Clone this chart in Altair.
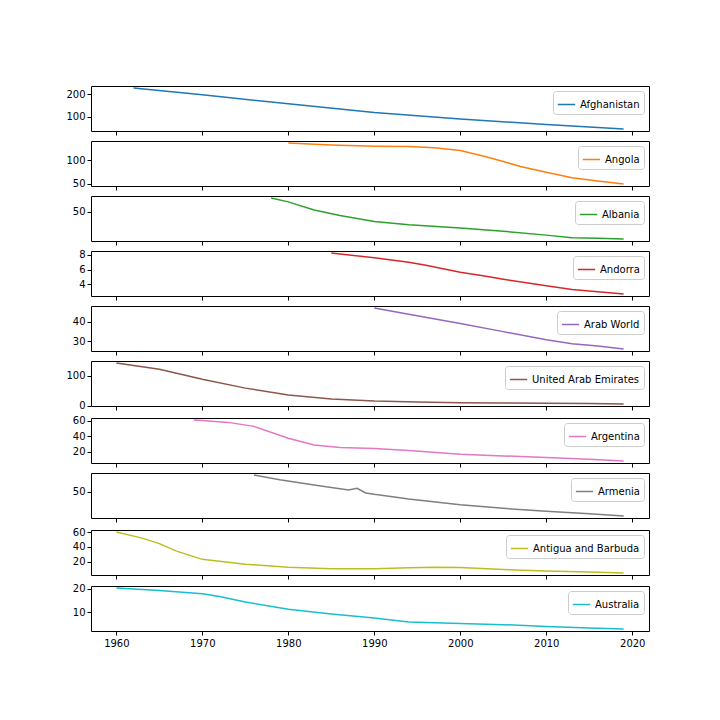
import altair as alt
import pandas as pd

countries = ["Afghanistan", "Angola", "Albania", "Andorra", "Arab World",
             "United Arab Emirates", "Argentina", "Armenia", "Antigua and Barbuda", "Australia"]
colors = ["#1f77b4", "#ff7f0e", "#2ca02c", "#d62728", "#9467bd",
          "#8c564b", "#e377c2", "#7f7f7f", "#bcbd22", "#17becf"]

# Infant mortality rate (per 1,000 live births)
afg_years = [1962, 1970, 1980, 1990, 2000, 2010, 2019]
afg_vals = [228, 198, 158, 120, 91, 66.6, 47]

ago_years = [1980, 1985, 1990, 1994, 1997, 2000, 2003, 2005, 2007, 2010, 2013, 2016, 2019]
ago_vals = [136, 132.1, 129.3, 128.6, 125.9, 120.4, 107.2, 97.0, 86.6, 74.2, 62.5, 55.6, 49.6]

alb_years = [1978, 1980, 1983, 1986, 1990, 1994, 2000, 2005, 2010, 2013, 2016, 2019]
alb_vals = [70.5, 64.7, 52.3, 44.0, 35.0, 30.1, 25.1, 20.2, 14.3, 10.3, 9.4, 8.5]

and_years = [1985, 1990, 1994, 1996, 2000, 2003, 2005, 2010, 2013, 2016, 2019]
and_vals = [8.25, 7.6, 7.0, 6.6, 5.65, 5.1, 4.7, 3.8, 3.3, 3.0, 2.7]

arb_years = [1990, 1994, 2000, 2005, 2010, 2013, 2016, 2019]
arb_vals = [47, 43.8, 39.1, 34.9, 30.7, 28.7, 27.5, 26]

are_years = [1960, 1965, 1970, 1975, 1980, 1985, 1990, 1995, 2000, 2005, 2010, 2015, 2019]
are_vals = [142, 121.4, 88.5, 58.9, 35.9, 22.8, 16.1, 12.9, 10.7, 9.6, 8.5, 7.6, 6.5]

arg_years = [1969, 1970, 1973, 1976, 1980, 1983, 1986, 1990, 1994, 2000, 2005, 2010, 2015, 2019]
arg_vals = [61, 60.5, 58.0, 52.9, 37.7, 29.1, 25.7, 24.4, 21.8, 17.1, 15.0, 12.8, 10.6, 8.5]

arm_years = [1976, 1979, 1983, 1987, 1988, 1989, 1990, 1994, 2000, 2005, 2010, 2015, 2019]
arm_vals = [77.3, 69.8, 61.2, 53.1, 55.8, 48.3, 46, 38.4, 29.3, 23.3, 18.5, 14.7, 11]

atg_years = [1960, 1963, 1965, 1967, 1970, 1975, 1980, 1985, 1990, 1994, 1997, 2000, 2005, 2010, 2015, 2019]
atg_vals = [60, 51.8, 44.4, 34.3, 23.3, 16.7, 12.8, 10.6, 10.6, 11.9, 12.8, 12.3, 9.7, 7.5, 6.2, 5.0]

aus_years = [1960, 1965, 1970, 1972, 1975, 1980, 1985, 1990, 1994, 2000, 2005, 2010, 2015, 2019]
aus_vals = [20.2, 19.2, 17.8, 16.7, 14.4, 11.3, 9.4, 7.7, 6.0, 5.4, 4.9, 4.1, 3.5, 3.1]

series = [(afg_years, afg_vals), (ago_years, ago_vals), (alb_years, alb_vals),
          (and_years, and_vals), (arb_years, arb_vals), (are_years, are_vals),
          (arg_years, arg_vals), (arm_years, arm_vals), (atg_years, atg_vals),
          (aus_years, aus_vals)]

x_ticks = [1960, 1970, 1980, 1990, 2000, 2010, 2020]
x_min, x_max = 1960, 2019
x_pad = (x_max - x_min) * 0.05

panels = []
n = len(countries)
for i, (name, col, (yrs, vals)) in enumerate(zip(countries, colors, series)):
    df = pd.DataFrame({"year": yrs, "value": vals, "country": name})
    lo, hi = min(vals), max(vals)
    pad = (hi - lo) * 0.05
    last = i == n - 1
    chart = alt.Chart(df).mark_line(strokeWidth=1.5).encode(
        x=alt.X("year:Q",
                scale=alt.Scale(domain=[x_min - x_pad, x_max + x_pad], nice=False, zero=False),
                axis=alt.Axis(values=x_ticks, format="d", title=None, labels=last,
                              tickSize=4, domain=False, grid=False, labelPadding=3)),
        y=alt.Y("value:Q",
                scale=alt.Scale(domain=[lo - pad, hi + pad], nice=False, zero=False),
                axis=alt.Axis(title=None, tickCount=2, tickSize=4, domain=False, grid=False,
                              labelPadding=2, minExtent=28, maxExtent=28, format="d")),
        color=alt.Color("country:N",
                        scale=alt.Scale(domain=[name], range=[col]),
                        legend=alt.Legend(title=None, orient="top-right", offset=5,
                                          symbolType="stroke", symbolStrokeWidth=1.5,
                                          symbolSize=300, labelFontSize=10,
                                          fillColor="white", strokeColor="#cccccc",
                                          cornerRadius=3, padding=4)),
    ).properties(width=558, height=45)
    panels.append(chart)

chart = alt.vconcat(*panels, spacing=3).resolve_scale(
    color="independent"
).resolve_legend(
    color="independent"
).properties(
    padding={"left": 62, "top": 84, "right": 10, "bottom": 10},
    background="white",
).configure_view(
    stroke="black", strokeWidth=1
).configure_axis(
    labelFont="DejaVu Sans", labelFontSize=10, labelColor="black",
    tickColor="black"
).configure_legend(
    labelFont="DejaVu Sans", labelColor="black"
)

chart.save("out.html", embed_options={"renderer": "svg", "actions": False})
